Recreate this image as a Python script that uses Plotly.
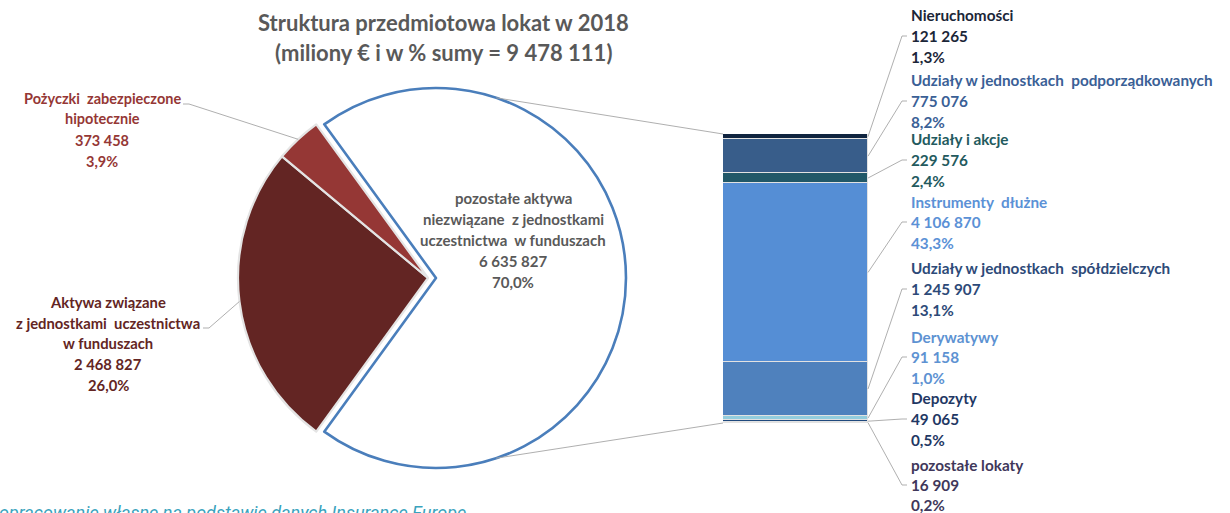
import math
import plotly.graph_objects as go

W, H = 1230, 513

# ---------------- data ----------------
title_lines = ["Struktura przedmiotowa lokat w 2018", "(miliony € i w % sumy = 9 478 111)"]
source_text = "opracowanie własne na podstawie danych Insurance Europe"

pie_names = [
    ["pozostałe aktywa", "niezwiązane  z jednostkami", "uczestnictwa  w funduszach"],
    ["Aktywa związane", "z jednostkami  uczestnictwa", "w funduszach"],
    ["Pożyczki  zabezpieczone", "hipotecznie"],
]
pie_values = [6635827, 2468827, 373458]
pie_colors = ["#ffffff", "#632523", "#953735"]
pie_text_colors = ["#595959", "#632523", "#953735"]

bar_names = [
    "Nieruchomości",
    "Udziały w jednostkach  podporządkowanych",
    "Udziały i akcje",
    "Instrumenty  dłużne",
    "Udziały w jednostkach  spółdzielczych",
    "Derywatywy",
    "Depozyty",
    "pozostałe lokaty",
]
bar_values = [121265, 775076, 229576, 4106870, 1245907, 91158, 49065, 16909]
bar_colors = ["#10243f", "#385d8a", "#215868", "#558ed5", "#4f81bd", "#93cddd", "#1f497d", "#403152"]
bar_text_colors = ["#1b2638", "#3a6096", "#235a5e", "#5b91d6", "#2d4a78", "#5d92d2", "#1f3864", "#40375a"]

TOTAL_ALL = sum(pie_values)
BAR_TOTAL = sum(bar_values)


def fmt(v):
    return f"{v:,}".replace(",", " ")


def pct(v):
    return f"{v / TOTAL_ALL * 100:.1f}%".replace(".", ",")


# ---------------- layout geometry (pixels) ----------------
PIE_CX, PIE_CY, PIE_R = 428, 278, 190
PULL = 0.042
BAR_L, BAR_R, BAR_T, BAR_B = 723, 868, 134, 423
FONT = "Lato"
GRAY = "#595959"


def px(x):
    return x / W


def py(y):
    return 1 - y / H


share_white = pie_values[0] / TOTAL_ALL
rotation = 90 - 360 * share_white / 2  # white slice centred at 3 o'clock

ext = PIE_R * (1 + PULL)
fig = go.Figure()
fig.add_trace(go.Pie(
    values=pie_values,
    labels=[" ".join(n) for n in pie_names],
    sort=False,
    direction="clockwise",
    rotation=rotation,
    pull=[PULL, 0, 0],
    marker=dict(colors=pie_colors,
                line=dict(color=["#4a7ebb", "#e4e4e4", "#e4e4e4"], width=[2.6, 2.2, 2.2])),
    textinfo="none",
    hoverinfo="label+value+percent",
    showlegend=False,
    domain=dict(x=[px(PIE_CX - ext), px(PIE_CX + ext)], y=[py(PIE_CY + ext), py(PIE_CY - ext)]),
))

# stacked bar (bottom segment first)
for name, val, col in reversed(list(zip(bar_names, bar_values, bar_colors))):
    fig.add_trace(go.Bar(
        x=[0], y=[val], name=name, width=1,
        marker=dict(color=col, line=dict(color="#e2e2e2", width=1)),
        showlegend=False, hoverinfo="name+y",
    ))

annotations = []
shapes = []


def add_text(x, y, s, color, size, anchor="left", italic=False, bold=True, family=FONT):
    txt = f"<b>{s}</b>" if bold else s
    if italic:
        txt = f"<i>{txt}</i>"
    annotations.append(dict(
        x=px(x), y=py(y), xref="paper", yref="paper", text=txt, showarrow=False,
        xanchor=anchor, yanchor="middle",
        font=dict(family=family, size=size, color=color),
    ))


def add_line(pts, color="#a6a6a6", width=0.9):
    path = "M " + " L ".join(f"{px(x)},{py(y)}" for x, y in pts)
    shapes.append(dict(type="path", path=path, xref="paper", yref="paper",
                       line=dict(color=color, width=width)))


# title
add_text(443, 22, title_lines[0], GRAY, 22, anchor="center")
add_text(443, 52, title_lines[1], GRAY, 22, anchor="center")

# pie labels
pie_label_pos = [(513, [198, 219, 240, 261, 282]),
                 (108, [302, 323, 343, 364, 385]),
                 (102, [98, 119, 140, 161])]
pie_label_size = [15, 14.8, 14.5]
for names, val, col, (lx, ys), fs in zip(pie_names, pie_values, pie_text_colors, pie_label_pos, pie_label_size):
    lines = names + [fmt(val), pct(val)]
    for s, y in zip(lines, ys):
        add_text(lx, y, s, col, fs, anchor="center")

# pie leader lines (to slice arc mid-points)
start = 90 - rotation  # math angle of start of first slice
angles = []
a = start
for v in pie_values:
    span = 360 * v / TOTAL_ALL
    angles.append(a - span / 2)
    a -= span
mid_akt = math.radians(angles[1])
mid_poz = math.radians(angles[2])
add_line([(203, 328), (209, 328), (PIE_CX + PIE_R * math.cos(mid_akt), PIE_CY - PIE_R * math.sin(mid_akt))])
add_line([(183, 104), (189, 104), (PIE_CX + PIE_R * math.cos(mid_poz), PIE_CY - PIE_R * math.sin(mid_poz))])

# connectors from pie to bar
wcx = PIE_CX + PIE_R * PULL
for sgn, by in ((1, BAR_T), (-1, BAR_B)):
    ang = math.radians(sgn * 71.5)
    add_line([(wcx + PIE_R * math.cos(ang), PIE_CY - PIE_R * math.sin(ang)), (BAR_L, by)])

# bar labels
bar_label_ys = [(15, 36, 57), (80, 101, 122), (139, 160, 181), (202, 222, 243),
                (268, 289, 310), (337, 357, 378), (398, 419, 440), (465, 485, 505)]
cum = 0
for name, val, col, ys in zip(bar_names, bar_values, bar_text_colors, bar_label_ys):
    for s, y in zip([name, fmt(val), pct(val)], ys):
        add_text(909, y, s, col, 15.3)
    mid = BAR_T + (cum + val / 2) / BAR_TOTAL * (BAR_B - BAR_T)
    cum += val
    add_line([(907, ys[1]), (902, ys[1]), (BAR_R, mid)])

# source
add_text(-3, 512, source_text, "#3aa3bd", 18, italic=True, bold=False, family="Roboto")

fig.update_layout(
    width=W, height=H,
    margin=dict(l=0, r=0, t=0, b=0),
    paper_bgcolor="white", plot_bgcolor="white",
    barmode="stack", bargap=0,
    xaxis=dict(domain=[px(BAR_L), px(BAR_R)], range=[-0.5, 0.5], visible=False, fixedrange=True),
    yaxis=dict(domain=[py(BAR_B), py(BAR_T)], range=[0, BAR_TOTAL], visible=False, fixedrange=True),
    annotations=annotations,
    shapes=shapes,
    showlegend=False,
)

fig.write_html("out.html", config={"displayModeBar": False},
               post_script="document.body.style.margin='0';document.body.style.overflow='hidden';")
